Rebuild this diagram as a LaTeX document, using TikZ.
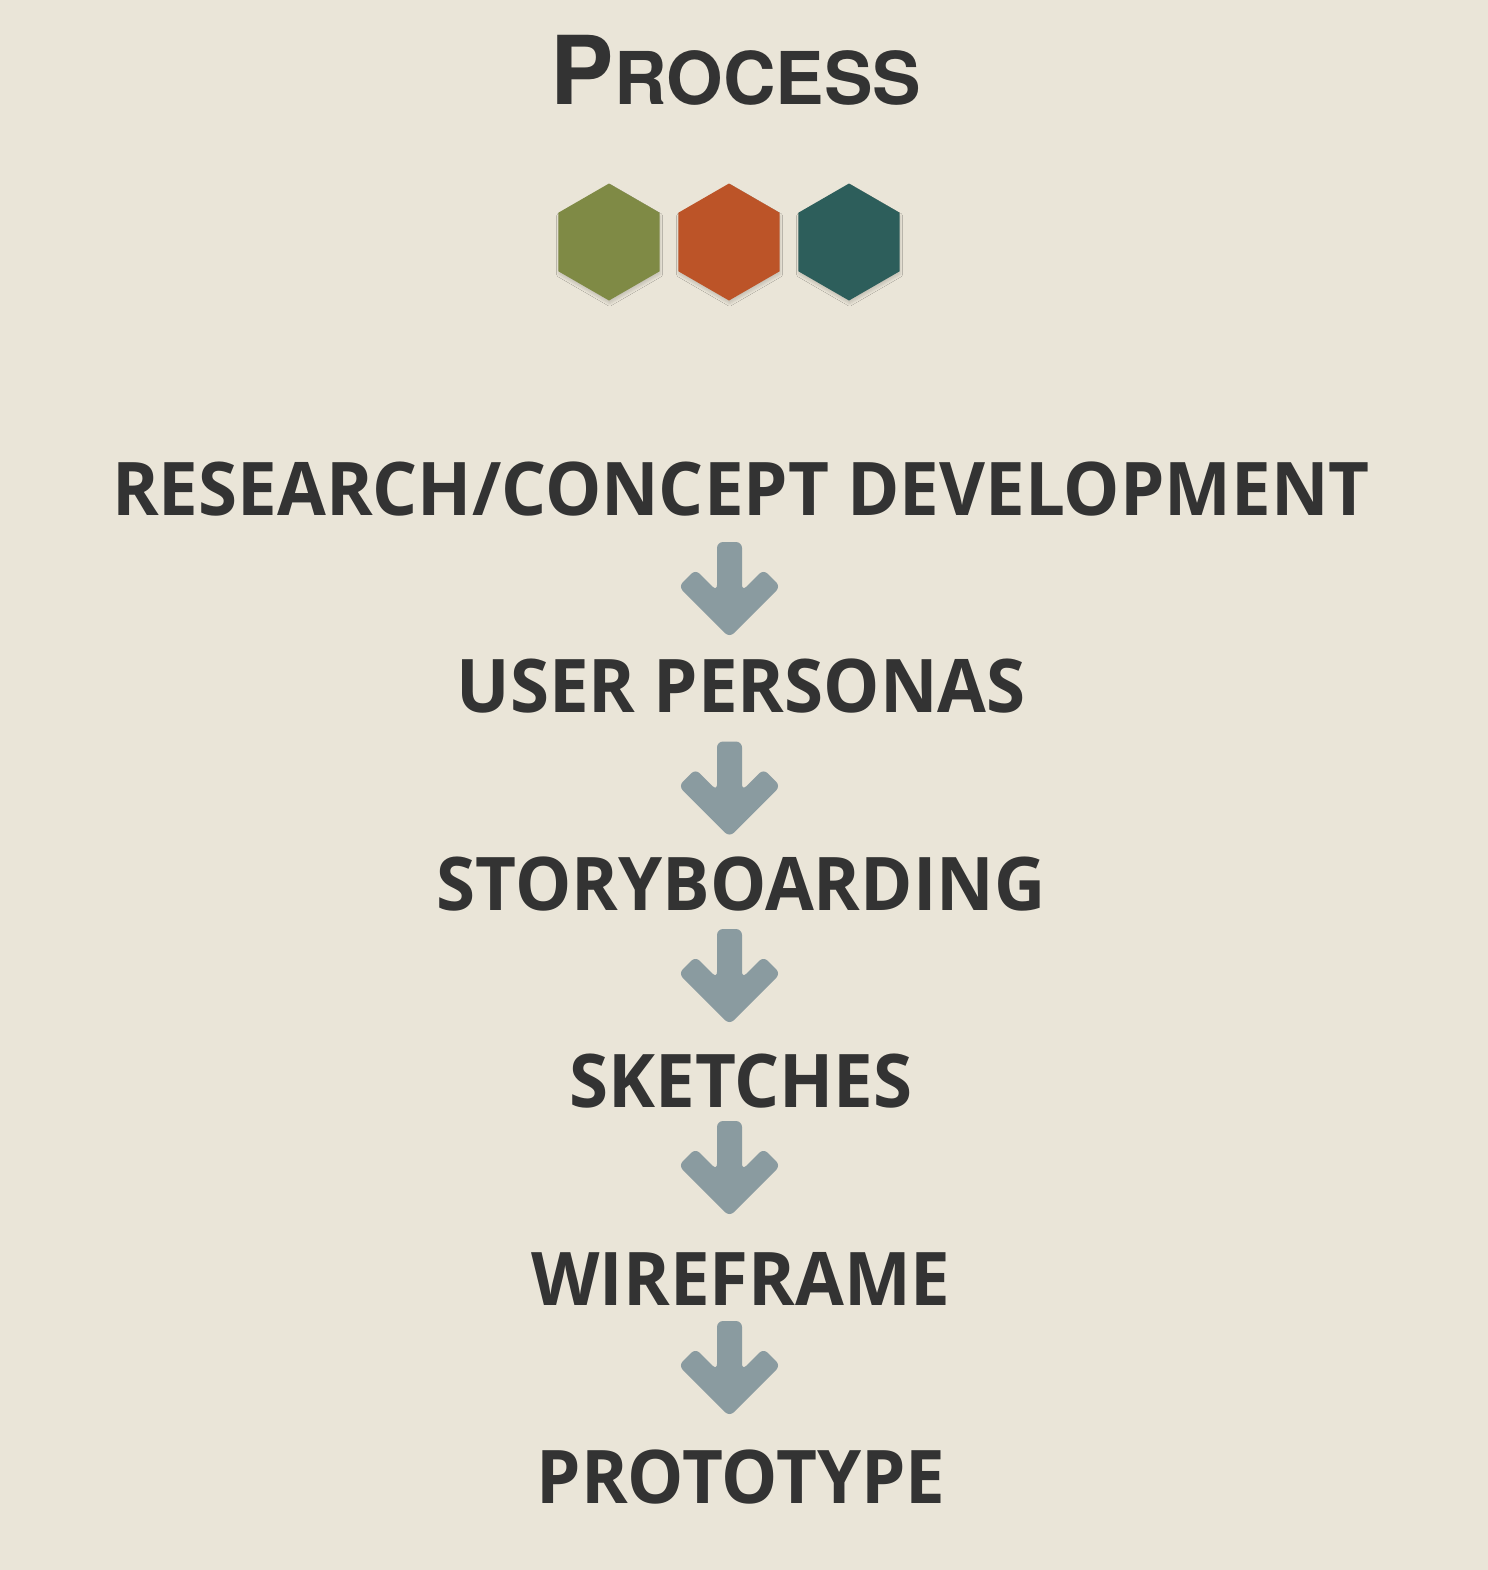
\documentclass[tikz,border=0pt]{standalone}
\usepackage{fontspec}
\usetikzlibrary{shapes.geometric,shadows.blur}
\newfontfamily\procfont{Open Sans}[FakeStretch=0.957]
\newfontfamily\headfont{TeX Gyre Heros}

\definecolor{bgcolor}{HTML}{EAE5D8}
\definecolor{inkcolor}{HTML}{333333}
\definecolor{hexgreen}{HTML}{7F8A45}
\definecolor{hexorange}{HTML}{BC5428}
\definecolor{hexteal}{HTML}{2D5E5B}
\definecolor{arrowgray}{HTML}{8A9BA0}

\tikzset{
  stepbox/.style={anchor=base, inner sep=0pt, text=inkcolor,
    font=\procfont\bfseries\fontsize{37}{37}\selectfont},
  hexbadge/.style={regular polygon, regular polygon sides=6,
    shape border rotate=30, minimum size=58.5pt, inner sep=0pt,
    blur shadow={shadow xshift=0.3pt, shadow yshift=-1.6pt,
      shadow blur radius=1.2pt, shadow opacity=14}},
  flowarrow/.pic={
    \fill[arrowgray, rounded corners=3pt]
      (-12.5,-47.5) -- (12.5,-47.5) -- (12.5,1.5) -- (34,-20) -- (51,-3)
      -- (0,48) -- (-51,-3) -- (-34,-20) -- (-12.5,1.5) -- cycle;
  }
}

\begin{document}
\begin{tikzpicture}[x=0.5pt, y=-0.5pt]
  % page and background
  \useasboundingbox (0,0) rectangle (1488,1570);
  \fill[bgcolor] (0,0) rectangle (1488,1570);

  % heading
  \node[anchor=base, inner sep=0pt, text=inkcolor] (title) at (736,104)
    {\headfont\bfseries{\fontsize{47.5}{48}\selectfont P}{\fontsize{36.4}{36}\selectfont ROCESS}};

  % three coloured hexagons
  \node[hexbadge, fill=hexgreen]  (hexA) at (609,242) {};
  \node[hexbadge, fill=hexorange] (hexB) at (729,242) {};
  \node[hexbadge, fill=hexteal]   (hexC) at (849,242) {};

  % process steps
  \node[stepbox] (research)  at (741,515)  {RESEARCH/CONCEPT DEVELOPMENT};
  \node[stepbox] (personas)  at (741,712)  {USER PERSONAS};
  \node[stepbox] (storyb)    at (741,910)  {STORYBOARDING};
  \node[stepbox] (sketches)  at (741,1107) {SKETCHES};
  \node[stepbox] (wireframe) at (741,1305) {WIREFRAME};
  \node[stepbox] (prototype) at (741,1503) {PROTOTYPE};

  % arrows between the steps
  \coordinate (arrA) at (729.5,589.5);
  \coordinate (arrB) at (729.5,789);
  \coordinate (arrC) at (729.5,976.5);
  \coordinate (arrD) at (729.5,1168.5);
  \coordinate (arrE) at (729.5,1368.5);
  \foreach \c in {arrA,arrB,arrC,arrD,arrE}
    \pic at (\c) {flowarrow};
\end{tikzpicture}
\end{document}
